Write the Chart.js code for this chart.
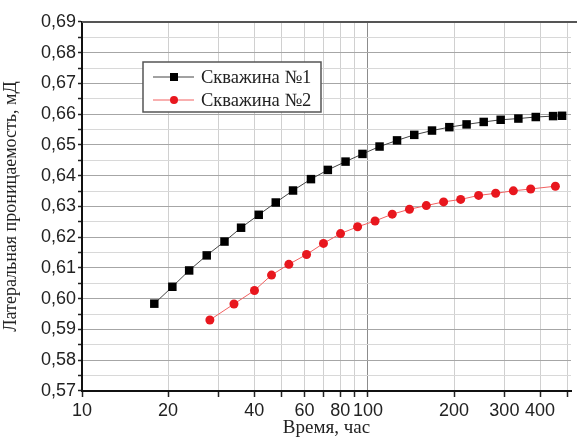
<!DOCTYPE html>
<html>
<head>
<meta charset="utf-8">
<script src="https://cdn.jsdelivr.net/npm/chart.js@4/dist/chart.umd.min.js"></script>
<style>
  html, body { margin: 0; padding: 0; background: #fff; overflow: hidden; }
  #wrap { width: 577px; height: 439px; }
</style>
</head>
<body>
<div id="wrap"><canvas id="chart" width="577" height="439"></canvas></div>
<script>
// time, hours
const well1Time = [17.9, 20.7, 23.7, 27.3, 31.5, 36, 41.5, 47.6, 54.7, 63.2, 72.4, 83.5, 95.7, 109.8, 126.4, 145.2, 167.5, 192.6, 221.3, 254, 291.2, 335.8, 386.2, 444.1, 477.5];
const well1Perm = [0.5984, 0.6039, 0.6092, 0.6141, 0.6186, 0.6231, 0.6273, 0.6313, 0.6352, 0.6389, 0.6419, 0.6446, 0.6471, 0.6495, 0.6515, 0.6533, 0.6547, 0.6558, 0.6567, 0.6575, 0.6582, 0.6586, 0.6591, 0.6594, 0.6595];

const well2Time = [28, 34, 40.1, 46, 52.9, 61, 69.9, 80.2, 92, 105.9, 121.6, 139.7, 160, 183.9, 211, 243.8, 279.7, 322.5, 370.8, 452.4];
const well2Perm = [0.5931, 0.5983, 0.6027, 0.6077, 0.6112, 0.6144, 0.618, 0.6212, 0.6234, 0.6253, 0.6275, 0.6291, 0.6303, 0.6315, 0.6323, 0.6336, 0.6343, 0.6351, 0.6357, 0.6366];

const seriesNames = ['Скважина №1', 'Скважина №2'];
const xTicks = [10, 20, 30, 40, 50, 60, 70, 80, 90, 100, 200, 300, 400, 500];
const xLabeled = [10, 20, 40, 60, 80, 100, 200, 300, 400];

const toPoints = (xs, ys) => xs.map((x, i) => ({ x: x, y: ys[i] }));
const serif = '"Liberation Serif", "Times New Roman", serif';
const sans = '"Liberation Sans", Arial, sans-serif';

// legend box inside the plot + top frame line
const extras = {
    id: 'extras',
    afterDraw(chart) {
        const ctx = chart.ctx;
        const a = chart.chartArea;
        ctx.save();
        ctx.strokeStyle = '#555';
        ctx.lineWidth = 2;
        ctx.beginPath();
        ctx.moveTo(a.left, a.top);
        ctx.lineTo(577, a.top);
        ctx.stroke();

        const bx = a.left + 61, by = a.top + 40, bw = 178, bh = 50;
        ctx.fillStyle = '#fff';
        ctx.fillRect(bx, by, bw, bh);
        ctx.strokeStyle = '#555';
        ctx.lineWidth = 1.5;
        ctx.strokeRect(bx, by, bw, bh);

        chart.data.datasets.forEach((ds, i) => {
            const y = by + 15 + i * 23;
            ctx.strokeStyle = ds.borderColor;
            ctx.lineWidth = 1;
            ctx.beginPath();
            ctx.moveTo(bx + 10, y);
            ctx.lineTo(bx + 51, y);
            ctx.stroke();
            ctx.fillStyle = ds.pointBackgroundColor;
            if (i === 0) {
                ctx.fillRect(bx + 27, y - 4, 8, 8);
            } else {
                ctx.beginPath();
                ctx.arc(bx + 31, y, 4, 0, Math.PI * 2);
                ctx.fill();
            }
            ctx.fillStyle = '#222';
            ctx.font = '18.5px ' + serif;
            ctx.textBaseline = 'middle';
            ctx.fillText(ds.label, bx + 58, y + 1);
        });
        ctx.restore();
    }
};

new Chart(document.getElementById('chart'), {
    type: 'line',
    data: {
        datasets: [{
            label: seriesNames[0],
            data: toPoints(well1Time, well1Perm),
            borderColor: '#444',
            borderWidth: 1,
            pointStyle: 'rect',
            pointRadius: 6,
            pointBackgroundColor: '#000',
            pointBorderColor: '#000',
            pointBorderWidth: 0
        }, {
            label: seriesNames[1],
            data: toPoints(well2Time, well2Perm),
            borderColor: '#f26060',
            borderWidth: 1,
            pointStyle: 'circle',
            pointRadius: 4.5,
            pointBackgroundColor: '#e8171e',
            pointBorderColor: '#e8171e',
            pointBorderWidth: 0
        }]
    },
    options: {
        responsive: false,
        animation: false,
        layout: { padding: { left: 0, right: 0, top: 22, bottom: 0 } },
        plugins: {
            legend: { display: false },
            tooltip: { enabled: false }
        },
        scales: {
            x: {
                type: 'logarithmic',
                min: 10,
                max: 513,
                afterBuildTicks(scale) {
                    scale.ticks = xTicks.map(v => ({ value: v }));
                },
                afterFit(scale) { scale.height = 48; },
                ticks: {
                    autoSkip: false,
                    maxRotation: 0,
                    padding: 3,
                    color: '#222',
                    font: { family: sans, size: 18 },
                    callback: v => xLabeled.includes(v) ? String(v) : ''
                },
                grid: {
                    color: ctx => (ctx.tick && ctx.tick.value === 100) ? '#8c8c8c' : '#d0d0d0',
                    tickColor: '#222',
                    tickLength: 6,
                    tickWidth: 1.5
                },
                border: { color: '#111', width: 2 },
                title: {
                    display: true,
                    text: 'Время, час',
                    color: '#222',
                    font: { family: serif, size: 19 },
                    padding: { top: 0, bottom: 0 }
                }
            },
            y: {
                min: 0.57,
                max: 0.69,
                afterBuildTicks(scale) {
                    const t = [];
                    for (let k = 114; k <= 138; k++) t.push({ value: k * 0.005 });
                    scale.ticks = t;
                },
                afterFit(scale) { scale.width = 82; },
                ticks: {
                    autoSkip: false,
                    padding: 2,
                    color: '#222',
                    font: { family: sans, size: 18 },
                    callback: v => (Math.round(v * 200) % 2 === 0) ? v.toFixed(2).replace('.', ',') : ''
                },
                grid: {
                    color: ctx => (ctx.tick && Math.round(ctx.tick.value * 200) % 2 === 0) ? '#a6a6a6' : '#d8d8d8',
                    tickColor: '#222',
                    tickLength: ctx => (ctx.tick && Math.round(ctx.tick.value * 200) % 2 === 0) ? 6 : 4,
                    tickWidth: 1.5
                },
                border: { color: '#111', width: 2 },
                title: {
                    display: true,
                    text: 'Латеральная проницаемость, мД',
                    color: '#222',
                    font: { family: serif, size: 18 },
                    padding: { top: 0, bottom: 2 }
                }
            }
        }
    },
    plugins: [extras]
});
</script>
</body>
</html>
